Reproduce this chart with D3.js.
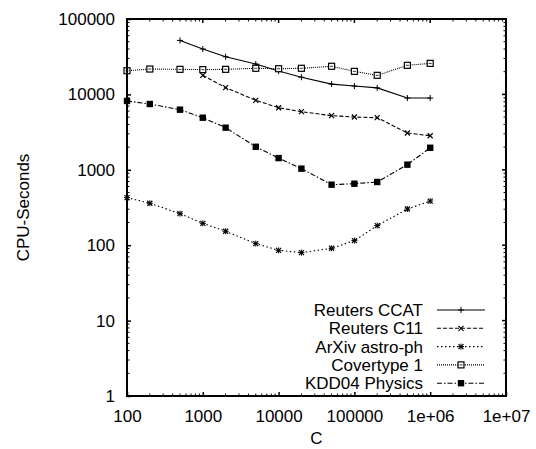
<!DOCTYPE html>
<html>
<head>
<meta charset="utf-8">
<script src="https://cdn.jsdelivr.net/npm/d3@7"></script>
<style>
  html, body { margin: 0; padding: 0; background: #fff; }
  svg { display: block; font-family: "Liberation Sans", Arial, sans-serif; }
</style>
</head>
<body>
<div id="chart"></div>
<script>
// C values used for all series
var cValues = [100, 200, 500, 1000, 2000, 5000, 10000, 20000, 50000, 100000, 200000, 500000, 1000000];

// CPU-seconds per series (aligned to the tail of cValues)
var reutersCCAT = [52000, 40000, 31600, 25300, 20400, 16900, 13700, 12900, 12200, 8950, 8950];
var reutersC11 = [17900, 12300, 8350, 6660, 5900, 5220, 5010, 4910, 3080, 2830];
var arxivAstro = [427, 360, 262, 195, 153, 105, 85.5, 79.6, 91, 115, 182, 302, 385];
var covertype = [20600, 21700, 21500, 21300, 21500, 22200, 21900, 22200, 23600, 20200, 17900, 24300, 25800];
var kdd04 = [8180, 7460, 6270, 4910, 3620, 2020, 1430, 1036, 635, 654, 689, 1170, 1960];

var seriesNames = ['Reuters CCAT', 'Reuters C11', 'ArXiv astro-ph', 'Covertype 1', 'KDD04 Physics'];
var xTicks = [100, 1000, 10000, 100000, 1000000, 10000000];
var xTickLabels = ['100', '1000', '10000', '100000', '1e+06', '1e+07'];
var yTicks = [1, 10, 100, 1000, 10000, 100000];
var yTickLabels = ['1', '10', '100', '1000', '10000', '100000'];

(function () {
  'use strict';

  var W = 536, H = 449;
  var left = 127, right = 506, top = 19, bottom = 396;
  var fs = '17px';

  function zip(vals) {
    var off = cValues.length - vals.length;
    return vals.map(function (v, i) { return { c: cValues[i + off], v: v }; });
  }

  var series = [
    { name: seriesNames[0], data: zip(reutersCCAT), dash: null, marker: 'plus' },
    { name: seriesNames[1], data: zip(reutersC11), dash: '4,2', marker: 'cross' },
    { name: seriesNames[2], data: zip(arxivAstro), dash: '1.5,2.5', marker: 'star' },
    { name: seriesNames[3], data: zip(covertype), dash: '1,1', marker: 'box' },
    { name: seriesNames[4], data: zip(kdd04), dash: '5,2,1.5,2', marker: 'fbox' }
  ];

  var x = d3.scaleLog().domain([100, 1e7]).range([left, right]);
  var y = d3.scaleLog().domain([1, 1e5]).range([bottom, top]);

  var svg = d3.select('#chart').append('svg').attr('width', W).attr('height', H);

  // minor tick values (2..9 in each decade)
  function minors(lo, hi) {
    var out = [];
    for (var d = lo; d < hi; d *= 10) {
      for (var k = 2; k <= 9; k++) out.push(d * k);
    }
    return out;
  }
  var xMinor = minors(100, 1e7);
  var yMinor = minors(1, 1e5);

  // axes: labels + major ticks inward
  var gx = svg.append('g').attr('transform', 'translate(0,' + bottom + ')')
    .call(d3.axisBottom(x).tickValues(xTicks).tickSize(-4).tickPadding(14)
      .tickFormat(function (d, i) { return xTickLabels[i]; }));
  var gy = svg.append('g').attr('transform', 'translate(' + left + ',0)')
    .call(d3.axisLeft(y).tickValues(yTicks).tickSize(-4).tickPadding(12)
      .tickFormat(function (d, i) { return yTickLabels[i]; }));
  [gx, gy].forEach(function (g) {
    g.select('.domain').remove();
    g.selectAll('text').attr('font-size', fs).attr('fill', '#000')
      .attr('font-family', '"Liberation Sans", Arial, sans-serif');
    g.selectAll('line').attr('stroke-width', 1.5);
  });

  // mirrored ticks top/right and minor ticks
  var ticks = svg.append('g').attr('stroke', '#000');
  xTicks.forEach(function (v) {
    ticks.append('line').attr('x1', x(v)).attr('x2', x(v)).attr('y1', top).attr('y2', top + 4).attr('stroke-width', 1.5);
  });
  yTicks.forEach(function (v) {
    ticks.append('line').attr('x1', right).attr('x2', right - 4).attr('y1', y(v)).attr('y2', y(v)).attr('stroke-width', 1.5);
  });
  xMinor.forEach(function (v) {
    ticks.append('line').attr('x1', x(v)).attr('x2', x(v)).attr('y1', bottom).attr('y2', bottom - 2.5).attr('stroke-width', 1);
    ticks.append('line').attr('x1', x(v)).attr('x2', x(v)).attr('y1', top).attr('y2', top + 2.5).attr('stroke-width', 1);
  });
  yMinor.forEach(function (v) {
    ticks.append('line').attr('x1', left).attr('x2', left + 2.5).attr('y1', y(v)).attr('y2', y(v)).attr('stroke-width', 1);
    ticks.append('line').attr('x1', right).attr('x2', right - 2.5).attr('y1', y(v)).attr('y2', y(v)).attr('stroke-width', 1);
  });

  // markers
  function drawMarker(g, type, cx, cy) {
    var s = 3;
    if (type === 'plus' || type === 'star') {
      g.append('path').attr('d', 'M' + (cx - s) + ',' + cy + 'H' + (cx + s) + 'M' + cx + ',' + (cy - s) + 'V' + (cy + s))
        .attr('stroke', '#000').attr('stroke-width', 1);
    }
    if (type === 'cross' || type === 'star') {
      var t = 2.5;
      g.append('path').attr('d', 'M' + (cx - t) + ',' + (cy - t) + 'L' + (cx + t) + ',' + (cy + t) +
        'M' + (cx - t) + ',' + (cy + t) + 'L' + (cx + t) + ',' + (cy - t))
        .attr('stroke', '#000').attr('stroke-width', 1.2);
    }
    if (type === 'box') {
      g.append('rect').attr('x', cx - 3).attr('y', cy - 3).attr('width', 6).attr('height', 6)
        .attr('fill', '#fff').attr('stroke', '#000').attr('stroke-width', 1.2);
      g.append('line').attr('x1', cx - 1.5).attr('x2', cx + 1.5).attr('y1', cy).attr('y2', cy)
        .attr('stroke', '#000').attr('stroke-width', 0.8);
    }
    if (type === 'fbox') {
      g.append('rect').attr('x', cx - 3.2).attr('y', cy - 3.2).attr('width', 6.4).attr('height', 6.4).attr('fill', '#000');
    }
  }

  var line = d3.line()
    .x(function (d) { return x(d.c); })
    .y(function (d) { return y(d.v); });

  var plot = svg.append('g');
  series.forEach(function (s) {
    plot.append('path').datum(s.data).attr('d', line)
      .attr('fill', 'none').attr('stroke', '#000').attr('stroke-width', 1.1)
      .attr('stroke-dasharray', s.dash);
    var mg = plot.append('g');
    s.data.forEach(function (d) { drawMarker(mg, s.marker, x(d.c), y(d.v)); });
  });

  // legend
  var leg = svg.append('g');
  series.forEach(function (s, i) {
    var ly = 310 + i * 18.3;
    leg.append('text').attr('x', 423).attr('y', ly).attr('dy', '0.35em')
      .attr('text-anchor', 'end').attr('font-size', fs).attr('fill', '#000').text(s.name);
    leg.append('line').attr('x1', 437).attr('x2', 485).attr('y1', ly).attr('y2', ly)
      .attr('stroke', '#000').attr('stroke-width', 1.1).attr('stroke-dasharray', s.dash);
    drawMarker(leg, s.marker, 461, ly);
  });

  // frame
  svg.append('rect').attr('x', left).attr('y', top).attr('width', right - left).attr('height', bottom - top)
    .attr('fill', 'none').attr('stroke', '#000').attr('stroke-width', 2);

  // axis titles
  svg.append('text').attr('x', (left + right) / 2).attr('y', 444).attr('text-anchor', 'middle')
    .attr('font-size', fs).text('C');
  svg.append('text').attr('transform', 'translate(29,' + ((top + bottom) / 2) + ') rotate(-90)')
    .attr('text-anchor', 'middle').attr('font-size', fs).text('CPU-Seconds');
})();
</script>
</body>
</html>
